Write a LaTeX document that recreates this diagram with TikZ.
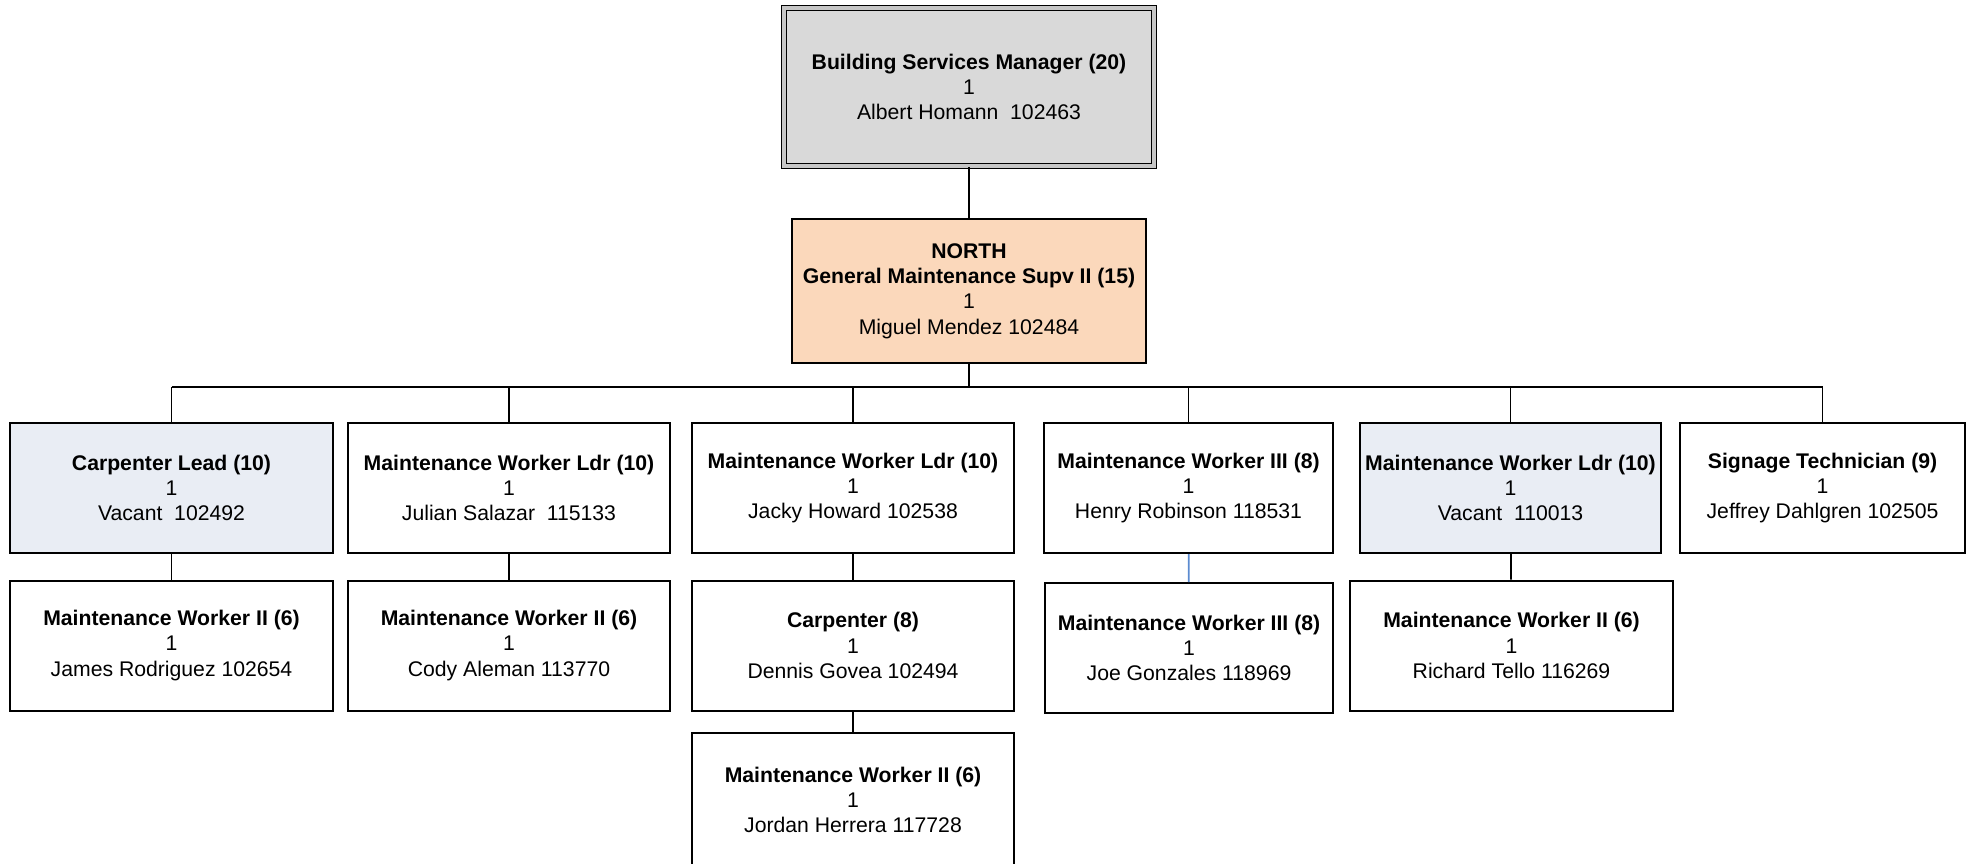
\documentclass[tikz,border=0pt]{standalone}
\usepackage{fontspec}
\setmainfont{Liberation Sans}
\definecolor{topgray}{HTML}{D9D9D9}
\definecolor{peach}{HTML}{FBD8BB}
\definecolor{paleblue}{HTML}{E9EDF4}
\definecolor{linkblue}{HTML}{5B8BD0}
\begin{document}
\begin{tikzpicture}[x = 0.5pt, y = -0.5pt,
  post/.style = {draw, line width = 1pt, align = center, inner sep = 0pt,
    font = \fontsize{10.6}{12.7}\selectfont, minimum height = 65pt},
  link/.style = {line width = 0.9pt}]
\useasboundingbox (0,0) rectangle (1975,863);
% top of the chart
\node [post, fill = topgray, double = gray!45, double distance = 1.6pt, line width = 0.8pt,
  minimum width = 185pt, minimum height = 79pt] (boss) at (969,87)
  {\textbf{Building Services Manager (20)}\\1\\Albert Homann~~102463};
\node [post, fill = peach, minimum width = 177pt, minimum height = 72pt] (north) at (969,291)
  {\textbf{NORTH}\\\textbf{General Maintenance Supv II (15)}\\1\\Miguel Mendez 102484};
% first row
\node [post, fill = paleblue, minimum width = 161.5pt] (lead) at (171.5,488)
  {\textbf{Carpenter Lead (10)}\\1\\Vacant~~102492};
\node [post, minimum width = 161pt] (ldrA) at (509,488)
  {\textbf{Maintenance Worker Ldr (10)}\\1\\Julian Salazar~~115133};
\node [post, minimum width = 161pt] (ldrB) at (853,488)
  {\textbf{Maintenance Worker Ldr (10)}\\1\\Jacky Howard 102538};
\node [post, minimum width = 144.5pt] (mwiii) at (1188.5,488)
  {\textbf{Maintenance Worker III (8)}\\1\\Henry Robinson 118531};
\node [post, fill = paleblue, minimum width = 150.5pt] (ldrC) at (1510.5,488)
  {\textbf{Maintenance Worker Ldr (10)}\\1\\Vacant~~110013};
\node [post, minimum width = 142.5pt] (sign) at (1822.5,488)
  {\textbf{Signage Technician (9)}\\1\\Jeffrey Dahlgren 102505};
% second row
\node [post, minimum width = 161.5pt] (mwA) at (171.5,645.5)
  {\textbf{Maintenance Worker II (6)}\\1\\James Rodriguez 102654};
\node [post, minimum width = 161pt] (mwB) at (509,645.5)
  {\textbf{Maintenance Worker II (6)}\\1\\Cody Aleman 113770};
\node [post, minimum width = 161pt] (carp) at (853,645.5)
  {\textbf{Carpenter (8)}\\1\\Dennis Govea 102494};
\node [post, minimum width = 144pt] (mwiiiB) at (1189,648)
  {\textbf{Maintenance Worker III (8)}\\1\\Joe Gonzales 118969};
\node [post, minimum width = 161.5pt] (mwC) at (1511.5,645.5)
  {\textbf{Maintenance Worker II (6)}\\1\\Richard Tello 116269};
% third row, cut off by the page
\node [post, minimum width = 161pt, minimum height = 67pt] (mwD) at (853,800)
  {\textbf{Maintenance Worker II (6)}\\1\\Jordan Herrera 117728};
% connectors
\coordinate (barL) at (171.5,387);
\coordinate (barR) at (1822.5,387);
\draw [link] (boss) -- (north);
\draw [link] (north.south) -- (north.south |- barL);
\draw [link] (barL) -- (barR);
\foreach \n in {lead, ldrA, ldrB, mwiii, ldrC, sign}
  \draw [link] (\n.north |- barL) -- (\n.north);
\draw [link] (lead) -- (mwA);
\draw [link] (ldrA) -- (mwB);
\draw [link] (ldrB) -- (carp);
\draw [link] (carp) -- (mwD);
\draw [link] (ldrC) -- (mwC);
\draw [link, linkblue] (mwiii) -- (mwiiiB);
\end{tikzpicture}
\end{document}
